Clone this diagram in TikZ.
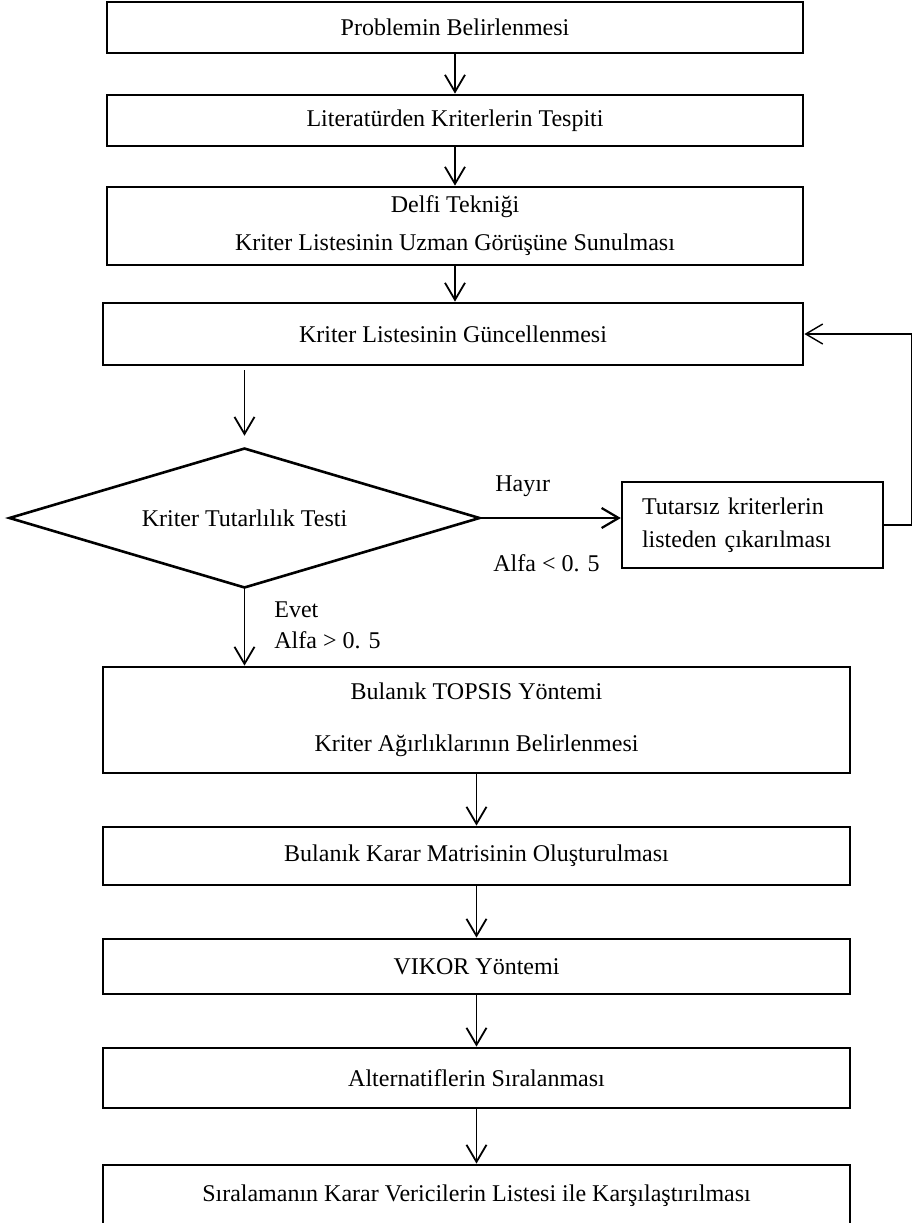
\documentclass[tikz,border=0pt]{standalone}
\usepackage{fontspec}
\setmainfont{Liberation Serif}
\usetikzlibrary{positioning,shapes.geometric,arrows.meta}

\begin{document}
\begin{tikzpicture}[x=0.5pt, y=-0.5pt, >={Straight Barb[length=8.5pt,width=10pt]},
  every node/.style={font=\fontsize{12}{14}\selectfont},
  stepbox/.style={draw, line width=1.4pt, inner sep=0pt, align=center},
  lbl/.style={anchor=west, inner sep=0pt},
  flow/.style={->, line width=0.9pt}]
  \useasboundingbox (0,0) rectangle (914,1223);

  % Upper boxes
  \node[stepbox, minimum width=348pt, minimum height=25.5pt] (prob) at (455,27.5) {Problemin Belirlenmesi};
  \node[stepbox, minimum width=348pt, minimum height=25.5pt] (lit) at (455,120.5) {Literatürden Kriterlerin Tespiti};
  \node[stepbox, minimum width=348pt, minimum height=39pt, font=\fontsize{12}{19}\selectfont] (delfi) at (455,226)
    {Delfi Tekniği\\Kriter Listesinin Uzman Görüşüne Sunulması};
  \node[stepbox, minimum width=350pt, minimum height=31pt] (upd) at (453,334) {Kriter Listesinin Güncellenmesi};

  % Consistency test
  \node[draw, diamond, aspect=3.36, minimum width=235.5pt, minimum height=70pt, inner sep=0pt, line width=1.3pt]
    (test) at (244.5,518) {Kriter Tutarlılık Testi};
  \node[stepbox, line width=1.2pt, text width=110.5pt, inner xsep=10pt, minimum height=43pt, align=left,
    font=\fontsize{12}{16.5}\selectfont] (drop) at (752.5,525) {Tutarsız kriterlerin\\listeden çıkarılması};
  \node[lbl] (no) at (495,486) {Hayır};
  \node[lbl] (nolim) at (493,563) {Alfa < 0. 5};
  \node[lbl] (yes) at (274,610) {Evet};
  \node[lbl] (yeslim) at (274,640) {Alfa > 0. 5};

  % Lower boxes
  \node[stepbox, minimum width=373.5pt, minimum height=53pt, font=\fontsize{12}{26}\selectfont] (topsis) at (476.5,720)
    {Bulanık TOPSIS Yöntemi\\Kriter Ağırlıklarının Belirlenmesi};
  \node[stepbox, minimum width=373.5pt, minimum height=29pt] (matris) at (476.5,856) {Bulanık Karar Matrisinin Oluşturulması};
  \node[stepbox, minimum width=373.5pt, minimum height=27.5pt] (vikor) at (476.5,966.5) {VIKOR Yöntemi};
  \node[stepbox, minimum width=373.5pt, minimum height=30pt] (sira) at (476.5,1078) {Alternatiflerin Sıralanması};
  \node[stepbox, minimum width=373.5pt, minimum height=31pt] (karsi) at (476.5,1196) {Sıralamanın Karar Vericilerin Listesi ile Karşılaştırılması};

  % Connectors
  \draw[flow] (prob) -- (lit);
  \draw[flow] (lit) -- (delfi);
  \draw[flow] (delfi.south) -- (delfi.south |- upd.north);
  \draw[flow] ([yshift=-2pt]test.north |- upd.south) -- ([yshift=5.5pt]test.north);
  \draw[flow, line width=1.1pt] (test.east) -- (drop.west |- test.east);
  \draw[flow, line width=0.7pt] (drop.east) -- ++(27,0) |- (upd.east);
  \draw[flow] (test.south) -- (test.south |- topsis.north);
  \draw[flow] (topsis) -- (matris);
  \draw[flow] (matris) -- (vikor);
  \draw[flow] (vikor) -- (sira);
  \draw[flow] (sira) -- (karsi);

\end{tikzpicture}
\end{document}
